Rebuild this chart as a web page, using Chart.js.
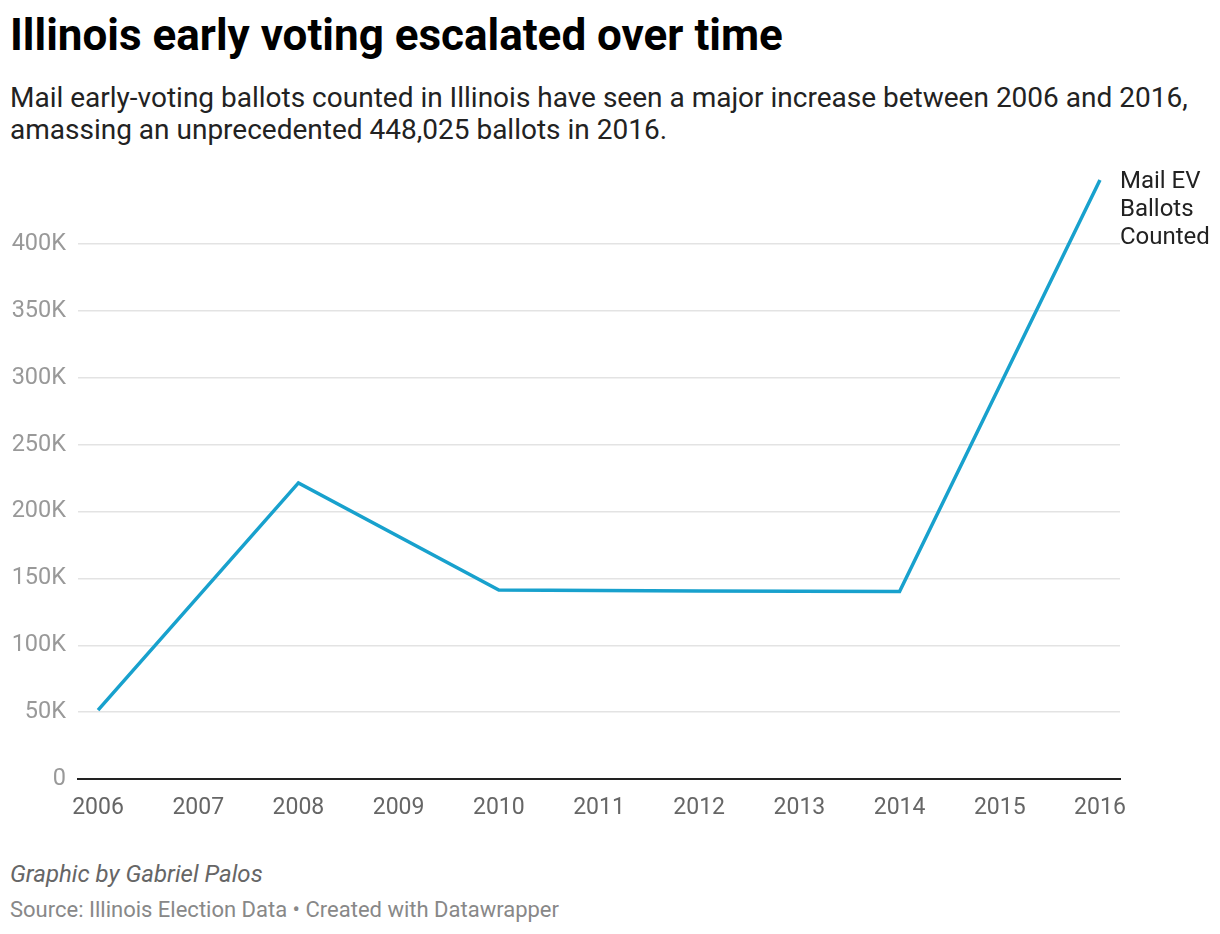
<!DOCTYPE html>
<html>
<head>
<meta charset="utf-8">
<script src="https://cdn.jsdelivr.net/npm/chart.js@4.4.1/dist/chart.umd.min.js"></script>
<style>
  body { margin: 0; background: #fff; font-family: Roboto, sans-serif; }
  #wrap { position: relative; width: 1220px; height: 934px; overflow: hidden; }
  h1 { position: absolute; left: 10px; top: 8px; margin: 0; font-size: 44px; line-height: 54px; font-weight: 700; color: #000; }
  .sub { position: absolute; left: 10px; top: 82px; margin: 0; font-size: 28px; line-height: 32px; color: #222; }
  #chartBox { position: absolute; left: 0; top: 160px; width: 1220px; height: 680px; }
  .byline { position: absolute; left: 10px; top: 860px; font-size: 24px; line-height: 28px; font-style: italic; color: #666; }
  .source { position: absolute; left: 10px; top: 897px; font-size: 22px; line-height: 26px; color: #888; }
</style>
</head>
<body>
<div id="wrap">
  <h1>Illinois early voting escalated over time</h1>
  <p class="sub">Mail early-voting ballots counted in Illinois have seen a major increase between 2006 and 2016,<br>amassing an unprecedented 448,025 ballots in 2016.</p>
  <div id="chartBox"><canvas id="evChart" width="1220" height="680"></canvas></div>
  <div class="byline">Graphic by Gabriel Palos</div>
  <div class="source">Source: Illinois Election Data • Created with Datawrapper</div>
</div>
<script>
const years = [2006, 2008, 2010, 2012, 2014, 2016]
const ballotsCounted = [51500, 221500, 141300, 140600, 140200, 448025]
const seriesLabel = ['Mail EV', 'Ballots', 'Counted']
const yTicks = [0, 50000, 100000, 150000, 200000, 250000, 300000, 350000, 400000]

const LINE_COLOR = 'rgb(24, 161, 205)'

// series name written next to the last point
const endLabel = {
    id: 'endLabel',
    afterDatasetsDraw(chart) {
        const meta = chart.getDatasetMeta(0)
        const last = meta.data[meta.data.length - 1]
        const ctx = chart.ctx
        ctx.save()
        ctx.font = '24px Roboto'
        ctx.fillStyle = '#222'
        ctx.textAlign = 'left'
        ctx.textBaseline = 'middle'
        seriesLabel.forEach((line, i) => {
            ctx.fillText(line, last.x + 20, last.y + 2 + i * 28)
        })
        ctx.restore()
    }
}

const context = document.getElementById('evChart')
const data = {
    datasets: [
        {
            label: seriesLabel.join(' '),
            data: years.map((year, i) => ({ x: year, y: ballotsCounted[i] })),
            borderColor: LINE_COLOR,
            borderWidth: 3.5,
            pointRadius: 0,
            tension: 0,
            fill: false,
            clip: false
        }
    ]
}
const config = {
    type: 'line',
    data: data,
    options: {
        responsive: false,
        animation: false,
        layout: {
            padding: { top: 20, right: 100, left: 0, bottom: 0 }
        },
        plugins: {
            legend: { display: false },
            tooltip: { enabled: false }
        },
        scales: {
            x: {
                type: 'linear',
                min: 2005.8,
                max: 2016.2,
                afterFit: scale => {
                    scale.height = 61
                    scale.paddingLeft = 0
                    scale.paddingRight = 0
                },
                grid: { display: false, drawTicks: false },
                border: { display: true, color: '#222', width: 2 },
                ticks: {
                    stepSize: 1,
                    includeBounds: false,
                    padding: 15,
                    color: '#666',
                    font: { family: 'Roboto', size: 23 },
                    callback: value => String(value)
                }
            },
            y: {
                min: 0,
                max: Math.max(...ballotsCounted),
                afterFit: scale => {
                    scale.width = 78
                    scale.paddingTop = 0
                    scale.paddingBottom = 0
                },
                afterBuildTicks: scale => { scale.ticks = yTicks.map(v => ({ value: v })) },
                grid: {
                    drawTicks: false,
                    color: ctx => ctx.tick && ctx.tick.value === 0 ? 'rgba(0,0,0,0)' : '#e3e3e3',
                    lineWidth: 1.5
                },
                border: { display: false },
                ticks: {
                    padding: 12,
                    color: '#999',
                    font: { family: 'Roboto', size: 23.5 },
                    callback: value => value === 0 ? '0' : (value / 1000) + 'K'
                }
            }
        }
    },
    plugins: [endLabel]
}
new Chart(context, config)
</script>
</body>
</html>
